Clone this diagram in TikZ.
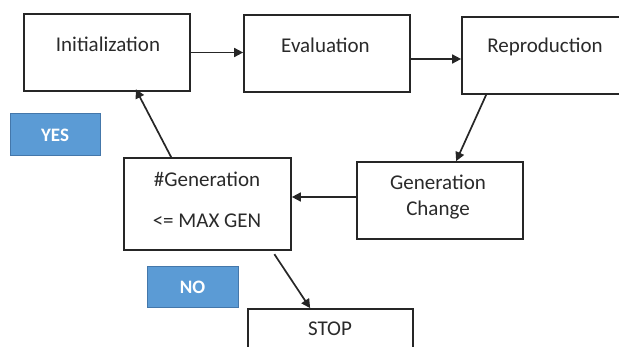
\documentclass[tikz,border=0pt]{standalone}
\usepackage{fontspec}
\setmainfont{Carlito}
\usetikzlibrary{arrows.meta}
\definecolor{txt}{HTML}{2A2A2A}
\definecolor{ln}{HTML}{262626}
\definecolor{bluefill}{HTML}{5B9BD5}
\definecolor{blueedge}{HTML}{4477AA}
\tikzset{
  box/.style={draw=ln, line width=1.7pt, fill=white, rectangle, inner sep=0pt},
  lbl/.style={text=txt, font=\fontsize{21}{24}\selectfont, inner sep=0pt},
  tag/.style={draw=blueedge, line width=1pt, fill=bluefill, text=white, font=\bfseries\fontsize{19}{22}\selectfont, inner sep=0pt},
  conn/.style={draw=ln, line width=1.7pt, -{Triangle[length=9pt,width=9pt]}}
}
\begin{document}
\begin{tikzpicture}[x=1pt,y=-1pt]
\useasboundingbox (0,0) rectangle (619,347);
\clip (0,0) rectangle (619,347);
% boxes
\node[box, minimum width=166pt, minimum height=77pt] (init) at (107,52.5) {};
\node[lbl] (tinit) at (108,44) {Initialization};
\node[box, minimum width=166pt, minimum height=77pt] (eval) at (327,53.5) {};
\node[lbl] (teval) at (325.5,45) {Evaluation};
\node[box, minimum width=180pt, minimum height=77pt] (repro) at (552,55.5) {};
\node[lbl] (trepro) at (545,47) {Reproduction};
\node[box, minimum width=166pt, minimum height=77pt] (gc) at (440,200.5) {};
\node[lbl, align=center] (tgc) at (438,197.5) {Generation\\[2pt]Change};
\node[box, minimum width=167pt, minimum height=92pt] (gen) at (207.5,204) {};
\node[lbl] (tgen1) at (207,179) {\#Generation};
\node[lbl] (tgen2) at (207,221) {<= MAX GEN};
\node[box, minimum width=165pt, minimum height=60pt] (stop) at (330.5,339) {};
\node[lbl] (tstop) at (330,329) {STOP};
% tags
\node[tag, minimum width=90pt, minimum height=42pt] (yes) at (55,135) {YES};
\node[tag, minimum width=91pt, minimum height=41pt] (no) at (192.5,287.5) {NO};
% connectors
\draw[conn] (init.east) -- (init.east -| eval.west);
\draw[conn] ([yshift=-5.5pt]eval.east) -- ([yshift=-3.5pt]repro.west);
\draw[conn] ([xshift=25pt]repro.south west) -- ([xshift=100pt]gc.north west);
\draw[conn] ([yshift=3.5pt]gc.west) -- ([yshift=7pt]gen.east);
\draw[conn, shorten >=-3pt] ([xshift=48pt]gen.north west) -- ([xshift=114pt]init.south west);
\draw[conn, shorten <=4pt] ([xshift=149pt]gen.south west) -- ([xshift=63pt]stop.north west);
\end{tikzpicture}
\end{document}
